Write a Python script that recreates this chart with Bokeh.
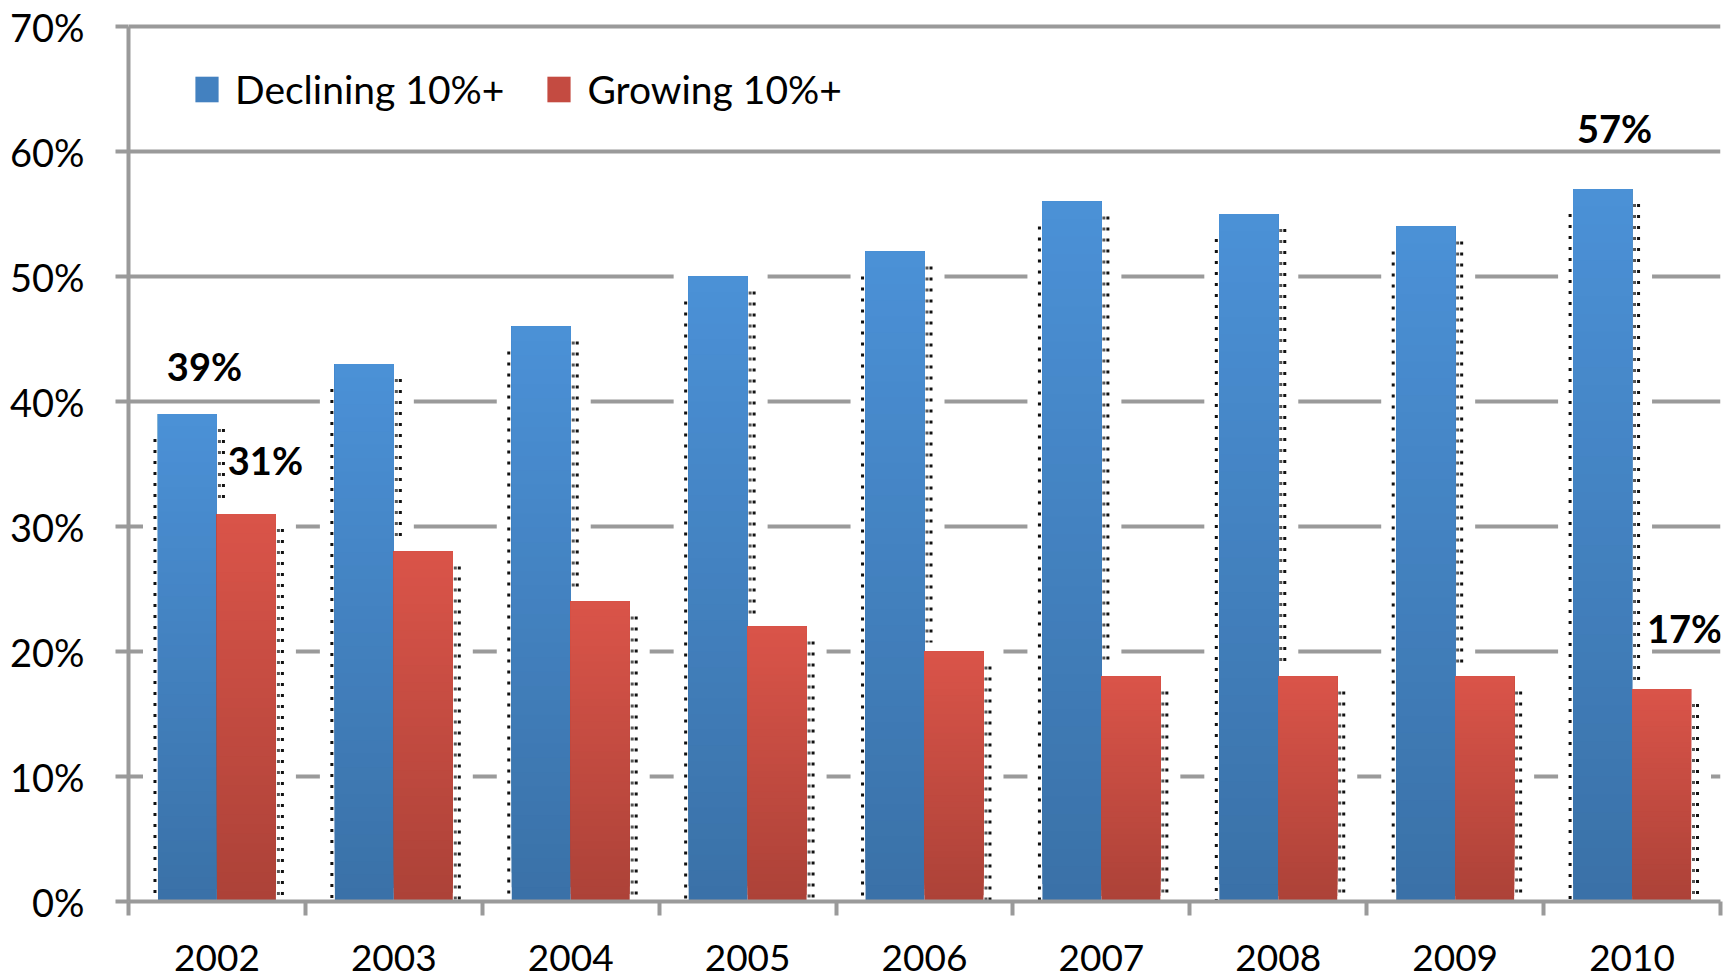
from bokeh.plotting import figure
from bokeh.models import (Range1d, FixedTicker, PrintfTickFormatter, Legend,
                          LegendItem, ColumnDataSource)
from bokeh.core.properties import value
from bokeh.embed import file_html
from bokeh.resources import INLINE

# ---------------- data ----------------
years = ["2002", "2003", "2004", "2005", "2006", "2007", "2008", "2009", "2010"]
declining = [39, 43, 46, 50, 52, 56, 55, 54, 57]
growing = [31, 28, 24, 22, 20, 18, 18, 18, 17]
series_names = ["Declining 10%+", "Growing 10%+"]
y_ticks = [0, 10, 20, 30, 40, 50, 60, 70]

# data labels shown on the chart
label_year_idx = [0, 0, 8, 8]
label_series = [0, 1, 0, 1]
label_values = [39, 31, 57, 17]
label_dx = [17, 19, 12, 23]     # pixel nudges
label_dy = [-48, -54, -61, -61]

# ---------------- style ----------------
FONT = "Lato"
GRID = "#9a9a9a"
BLUE_TOP, BLUE_BOT = (75, 145, 215), (58, 113, 167)
RED_TOP, RED_BOT = (218, 84, 73), (172, 66, 56)

W, H = 1732, 978
BL, BR, BT, BB = 128, 12, 21, 77
YMAX = 70.4
frame_w = W - BL - BR
frame_h = H - BT - BB
px_x = frame_w / len(years)      # pixels per category
px_y = frame_h / YMAX            # pixels per percent

p = figure(width=W, height=H, output_backend="svg", toolbar_location=None,
           x_range=Range1d(0, len(years)), y_range=Range1d(0, YMAX),
           min_border_left=BL, min_border_right=BR, min_border_top=BT,
           min_border_bottom=BB)
p.outline_line_color = None
p.background_fill_color = "white"
p.border_fill_color = "white"
p.xgrid.visible = False
p.ygrid.ticker = FixedTicker(ticks=y_ticks)
p.ygrid.grid_line_color = GRID
p.ygrid.grid_line_width = 4

def hexc(c):
    return "#%02x%02x%02x" % tuple(int(round(v)) for v in c)

def mix(a, b, t):
    return tuple(a[i] + (b[i] - a[i]) * t for i in range(3))

n = len(years)
bw = 1.0 / 3.0
blue_left = [i + 1 / 6 for i in range(n)]
red_left = [i + 0.5 for i in range(n)]

# white halos that interrupt the gridlines around each bar
mask = dict(left=[], right=[], top=[], bottom=[])
for lefts, vals in ((blue_left, declining), (red_left, growing)):
    for l, v in zip(lefts, vals):
        mask["left"].append(l - 15 / px_x)
        mask["right"].append(l + bw + 20 / px_x)
        mask["top"].append(v + 2.5 / px_y)
        mask["bottom"].append(0)
p.quad(source=ColumnDataSource(mask), left="left", right="right", top="top",
       bottom="bottom", fill_color="white", line_color=None)

# dotted shadow edges
dots = dict(x0=[], y0=[], x1=[], y1=[], c=[])
for i in range(n):
    bl, v_b, v_r = blue_left[i], declining[i], growing[i]
    # left edge of blue bar
    x = bl - 3 / px_x
    dots["x0"].append(x); dots["x1"].append(x)
    dots["y0"].append(v_b - 25 / px_y); dots["y1"].append(0); dots["c"].append("#111111")
    # right edge of blue bar (two columns, above the red bar)
    for off, col in ((2.5, "#555555"), (6.5, "#111111")):
        x = bl + bw + off / px_x
        dots["x0"].append(x); dots["x1"].append(x)
        dots["y0"].append(v_b - 15 / px_y); dots["y1"].append(v_r + 9 / px_y)
        dots["c"].append(col)
    # right edge of red bar
    for off, col in ((2.5, "#555555"), (6.5, "#111111")):
        x = red_left[i] + bw + off / px_x
        dots["x0"].append(x); dots["x1"].append(x)
        dots["y0"].append(v_r - 15 / px_y); dots["y1"].append(0)
        dots["c"].append(col)
p.segment(source=ColumnDataSource(dots), x0="x0", y0="y0", x1="x1", y1="y1",
          line_color="c", line_width=3, line_dash="3 8")

# gradient bars (stacked bands, each reaching the bar top)
N = 40
renderers = []
for lefts, vals, ctop, cbot in ((blue_left, declining, BLUE_TOP, BLUE_BOT),
                                (red_left, growing, RED_TOP, RED_BOT)):
    bars = dict(left=[], right=[], top=[], bottom=[], color=[])
    for l, v in zip(lefts, vals):
        for k in range(N):
            bars["left"].append(l)
            bars["right"].append(l + bw)
            bars["bottom"].append(v * k / N)
            bars["top"].append(v)
            bars["color"].append(hexc(mix(cbot, ctop, (k + 0.5) / N)))
    renderers.append(p.quad(source=ColumnDataSource(bars), left="left",
                            right="right", top="top", bottom="bottom",
                            fill_color="color", line_color=None))

# data labels
lab = dict(x=[], y=[], t=[], dx=label_dx, dy=label_dy)
for i, s, v in zip(label_year_idx, label_series, label_values):
    lab["x"].append(i + (1 / 3 if s == 0 else 2 / 3))
    lab["y"].append(v)
    lab["t"].append("%d%%" % v)
p.text(source=ColumnDataSource(lab), x="x", y="y", text="t", x_offset="dx",
       y_offset="dy", text_align="center", text_baseline="middle",
       text_font=value(FONT), text_font_style="bold", text_font_size="38px",
       text_color="black")

# legend (glyph colour taken from the middle of the bar gradient)
legend = Legend(items=[LegendItem(label=series_names[0], renderers=[renderers[0]], index=N // 2),
                       LegendItem(label=series_names[1], renderers=[renderers[1]], index=N // 2)],
                orientation="horizontal", location=(64, 789),
                glyph_width=29, glyph_height=32, label_standoff=14, spacing=40,
                padding=0, margin=0, border_line_color=None,
                background_fill_alpha=0, label_text_font=FONT,
                label_text_font_size="39px", label_text_color="black")
p.add_layout(legend)

# y axis
ya = p.yaxis[0]
ya.ticker = FixedTicker(ticks=y_ticks)
ya.formatter = PrintfTickFormatter(format="%d%%")
ya.bounds = (0, 70)
ya.axis_line_color = GRID
ya.axis_line_width = 4
ya.major_tick_out = 13
ya.major_tick_in = 0
ya.major_tick_line_color = GRID
ya.major_tick_line_width = 4
ya.minor_tick_line_color = None
ya.major_label_standoff = 31
ya.major_label_text_font = FONT
ya.major_label_text_font_size = "38px"
ya.major_label_text_color = "black"

# x axis: labels at category centres, ticks at category boundaries
xa = p.xaxis[0]
xa.ticker = FixedTicker(ticks=[i + 0.5 for i in range(n)],
                        minor_ticks=list(range(n + 1)))
xa.major_label_overrides = {i + 0.5: years[i] for i in range(n)}
xa.bounds = (0, n)
xa.axis_line_color = GRID
xa.axis_line_width = 4
xa.major_tick_out = 0
xa.major_tick_in = 0
xa.major_tick_line_color = None
xa.minor_tick_out = 14
xa.minor_tick_in = 0
xa.minor_tick_line_color = GRID
xa.minor_tick_line_width = 4
xa.major_label_standoff = 29
xa.major_label_text_line_height = 1.0
xa.major_label_text_font = FONT
xa.major_label_text_font_size = "37px"
xa.major_label_text_color = "black"

open("out.html", "w").write(file_html(p, INLINE))
